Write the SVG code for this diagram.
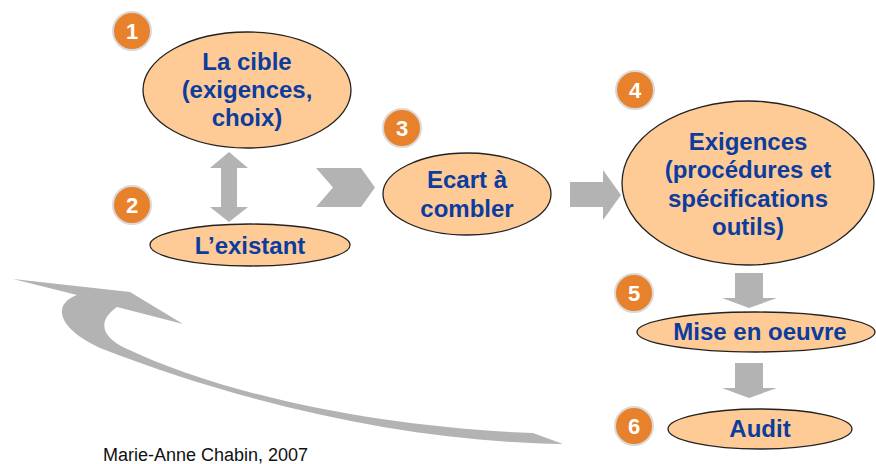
<svg xmlns="http://www.w3.org/2000/svg" width="876" height="464" viewBox="0 0 876 464">
<style>
.node ellipse{fill:#FECB97;stroke:#222;stroke-width:1.3}
.lbl{font-family:"Liberation Sans",Arial,sans-serif;font-weight:bold;font-size:24px;fill:#0B3C9E;text-anchor:middle}
.badge circle{fill:#E8812C;stroke:#D9D9D9;stroke-width:2}
.badge text{font-family:"Liberation Sans",Arial,sans-serif;font-weight:bold;font-size:22px;fill:#fff;text-anchor:middle}
.arr{fill:#B3B3B3;stroke:none}
.credit{font-family:"Liberation Sans",Arial,sans-serif;font-size:18px;fill:#111}
</style>
<rect width="876" height="464" fill="#fff"/>
<g id="connectors">
<path class="arr" d="M229,152 L248,168 L237,168 L237,207 L248,207 L229,222 L210,207 L221,207 L221,168 L210,168 Z"/>
<path class="arr" d="M316,168 L361,168 L375,187.5 L361,207 L316,207 L333,187.5 Z"/>
<path class="arr" d="M570,182 L603,182 L603,170 L621,195 L603,220 L603,207 L570,207 Z"/>
<path class="arr" d="M735,273 L763,273 L763,298 L777,298 L749,308 L722,298 L735,298 Z"/>
<path class="arr" d="M735,363 L763,363 L763,388 L777,388 L749,398 L722,388 L735,388 Z"/>
<path class="arr" d="M13,279 L130,292 L183,324 L117,307 C98,320 100,336 125,348 C230,398 390,428 533,433 L563,444 C420,442 260,410 100,348 C60,330 50,305 77,295 Z"/>
</g>
<g id="node1" class="node">
<ellipse cx="247" cy="90" rx="104" ry="58"/>
<text class="lbl" x="247" y="70">La cible</text>
<text class="lbl" x="247" y="98">(exigences,</text>
<text class="lbl" x="247" y="126">choix)</text>
</g>
<g id="node2" class="node">
<ellipse cx="250" cy="245" rx="100" ry="21"/>
<text class="lbl" x="250" y="254">L’existant</text>
</g>
<g id="node3" class="node">
<ellipse cx="467" cy="194" rx="84" ry="41"/>
<text class="lbl" x="467" y="188">Ecart à</text>
<text class="lbl" x="467" y="217">combler</text>
</g>
<g id="node4" class="node">
<ellipse cx="748" cy="183" rx="126" ry="82"/>
<text class="lbl" x="748" y="150">Exigences</text>
<text class="lbl" x="748" y="178">(procédures et</text>
<text class="lbl" x="748" y="207">spécifications</text>
<text class="lbl" x="748" y="235">outils)</text>
</g>
<g id="node5" class="node">
<ellipse cx="756" cy="332" rx="119" ry="20"/>
<text class="lbl" x="760" y="340">Mise en oeuvre</text>
</g>
<g id="node6" class="node">
<ellipse cx="760" cy="429" rx="92" ry="20"/>
<text class="lbl" x="760" y="437">Audit</text>
</g>
<g id="badge1" class="badge"><circle cx="132" cy="31" r="19"/><text x="132" y="39">1</text></g>
<g id="badge2" class="badge"><circle cx="132" cy="205" r="19"/><text x="132" y="213">2</text></g>
<g id="badge3" class="badge"><circle cx="402" cy="128" r="19"/><text x="402" y="136">3</text></g>
<g id="badge4" class="badge"><circle cx="635" cy="90" r="19"/><text x="635" y="98">4</text></g>
<g id="badge5" class="badge"><circle cx="634" cy="293" r="19"/><text x="634" y="301">5</text></g>
<g id="badge6" class="badge"><circle cx="634" cy="426" r="19"/><text x="634" y="434">6</text></g>
<text class="credit" x="103" y="461">Marie-Anne Chabin, 2007</text>
</svg>
